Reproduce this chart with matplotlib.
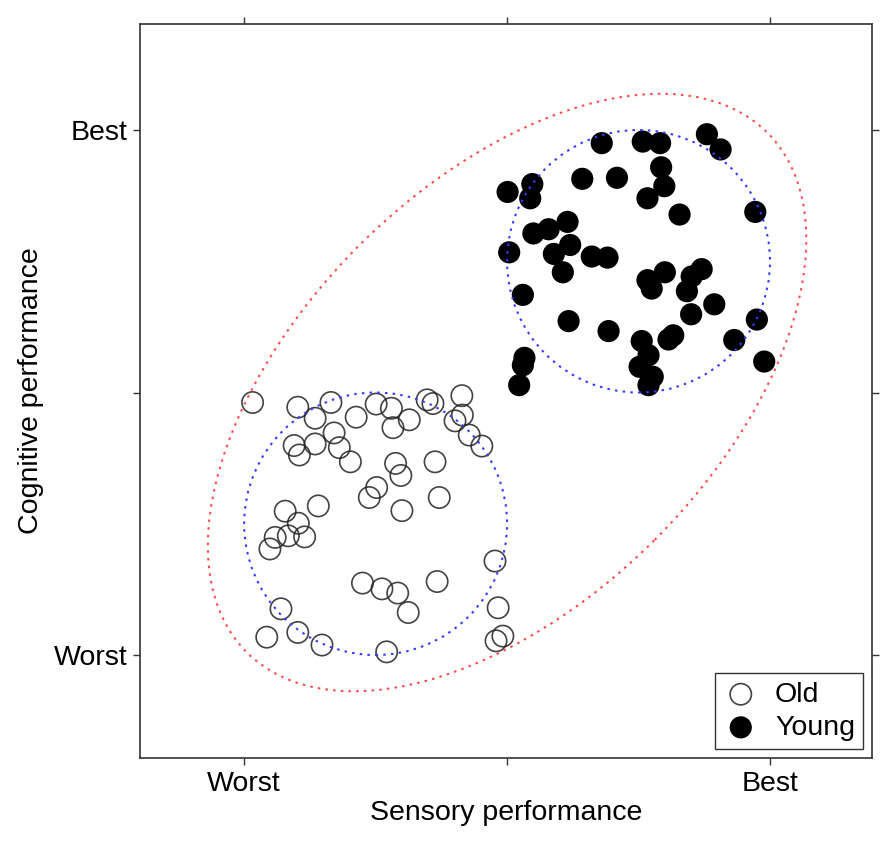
import matplotlib
matplotlib.use('Agg')
import matplotlib.pyplot as plt
from matplotlib.patches import Ellipse

plt.rcParams['font.family'] = ['Liberation Sans', 'DejaVu Sans']

# scores (0 = worst, 1 = best)
old_x = [0.016, 0.102, 0.165, 0.135, 0.213, 0.251, 0.280, 0.283, 0.314, 0.348,
         0.359, 0.414, 0.415, 0.401, 0.428, 0.452, 0.171, 0.095, 0.135, 0.105,
         0.181, 0.202, 0.288, 0.298, 0.363, 0.252, 0.238, 0.371, 0.300, 0.141,
         0.078, 0.103, 0.059, 0.084, 0.115, 0.049, 0.225, 0.262, 0.292, 0.312,
         0.367, 0.477, 0.483, 0.492, 0.479, 0.271, 0.148, 0.102, 0.043, 0.070]
old_y = [0.481, 0.472, 0.481, 0.451, 0.453, 0.478, 0.470, 0.433, 0.448, 0.486,
         0.479, 0.494, 0.457, 0.446, 0.419, 0.398, 0.423, 0.399, 0.402, 0.381,
         0.395, 0.368, 0.365, 0.342, 0.368, 0.319, 0.300, 0.300, 0.275, 0.284,
         0.274, 0.251, 0.224, 0.227, 0.225, 0.202, 0.137, 0.126, 0.118, 0.081,
         0.140, 0.179, 0.090, 0.036, 0.027, 0.006, 0.019, 0.043, 0.034, 0.088]

young_x = [0.680, 0.758, 0.791, 0.880, 0.906, 0.793, 0.799, 0.767, 0.643, 0.709,
           0.828, 0.972, 0.501, 0.548, 0.544, 0.550, 0.579, 0.615, 0.620, 0.589,
           0.606, 0.661, 0.691, 0.504, 0.530, 0.617, 0.693, 0.767, 0.800, 0.775,
           0.870, 0.851, 0.842, 0.894, 0.850, 0.975, 0.816, 0.807, 0.756, 0.769,
           0.752, 0.777, 0.769, 0.932, 0.989, 0.533, 0.530, 0.523]
young_y = [0.975, 0.978, 0.975, 0.992, 0.963, 0.929, 0.893, 0.870, 0.907, 0.909,
           0.839, 0.844, 0.882, 0.897, 0.870, 0.803, 0.811, 0.825, 0.781, 0.764,
           0.729, 0.759, 0.757, 0.767, 0.686, 0.636, 0.617, 0.714, 0.729, 0.698,
           0.735, 0.721, 0.693, 0.668, 0.649, 0.639, 0.609, 0.601, 0.598, 0.571,
           0.549, 0.530, 0.514, 0.600, 0.559, 0.566, 0.552, 0.514]

# ellipses: centre x, centre y, full width, full height, angle
circle_old = (0.25, 0.25, 0.5, 0.5, 0)
circle_young = (0.75, 0.75, 0.5, 0.5, 0)
ellipse_all = (0.5, 0.5, 1.40, 0.794, 45)

tick_pos = [0, 0.5, 1]
tick_labels = ['Worst', '', 'Best']

fs = 20.5
frame_col = '#333333'

fig = plt.figure(figsize=(8.92, 8.44), dpi=100)
ax = fig.add_axes([0.157, 0.102, 0.8206, 0.8696])

ax.scatter(old_x, old_y, s=235, facecolors='none', edgecolors='#222222',
           linewidths=1.2, alpha=0.85, label='Old', zorder=2)
ax.scatter(young_x, young_y, s=255, c='black', edgecolors='none',
           label='Young', zorder=2)

for (cx, cy, w, h, ang), col in [(circle_old, '#3a3aff'), (circle_young, '#3a3aff'),
                                 (ellipse_all, '#ff4a4a')]:
    ax.add_patch(Ellipse((cx, cy), w, h, angle=ang, fill=False, edgecolor=col,
                         linewidth=1.5, linestyle=(0, (1.2, 2.5)), zorder=3))

ax.set_xlim(-0.198, 1.194)
ax.set_ylim(-0.196, 1.202)
ax.set_xticks(tick_pos)
ax.set_xticklabels(tick_labels)
ax.set_yticks(tick_pos)
ax.set_yticklabels(tick_labels)
ax.tick_params(axis='both', direction='out', length=5, width=1, color=frame_col,
               labelsize=fs, top=True, right=True)
ax.tick_params(axis='x', pad=4.5)
ax.tick_params(axis='y', pad=4)
for sp in ax.spines.values():
    sp.set_color(frame_col)
    sp.set_linewidth(1.2)

ax.set_xlabel('Sensory performance', fontsize=fs, labelpad=2)
ax.set_ylabel('Cognitive performance', fontsize=fs, labelpad=7)

leg = ax.legend(loc='lower right', fontsize=fs, fancybox=False, framealpha=1,
                edgecolor=frame_col, borderpad=0.3, labelspacing=0.25,
                handlelength=1.2, handletextpad=0.6, borderaxespad=0.3,
                scatterpoints=1)
leg.get_frame().set_linewidth(1.0)

fig.savefig('out.png', dpi=100)
